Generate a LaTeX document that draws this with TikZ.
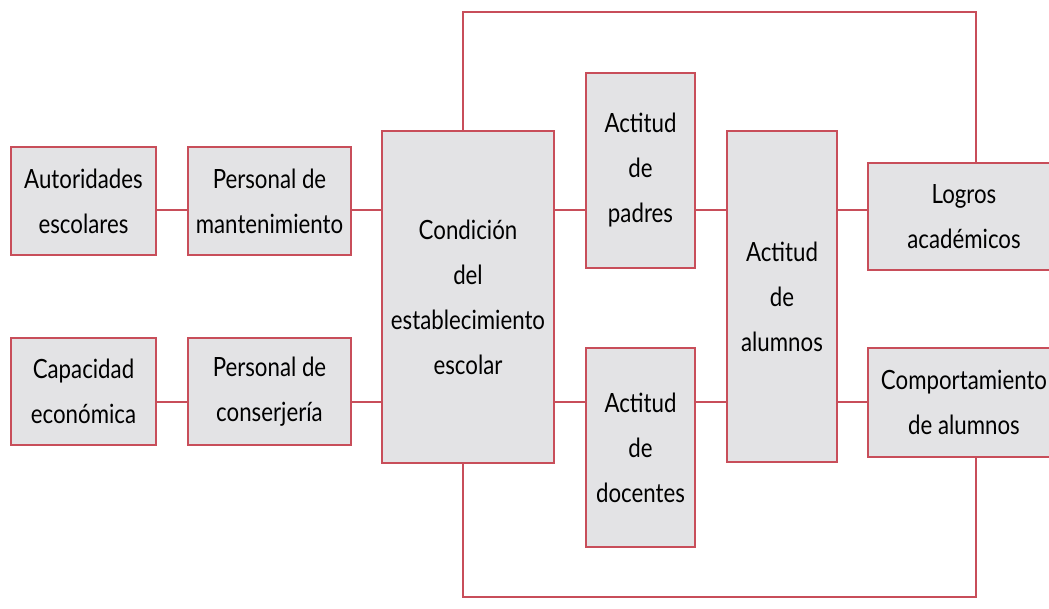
\documentclass[tikz,border=0pt]{standalone}
\usepackage{fontspec}
\setmainfont{Lato}[FakeStretch=0.84]
\definecolor{boxred}{RGB}{200,78,90}
\definecolor{boxgray}{RGB}{227,227,229}

\begin{document}
\begin{tikzpicture}[x=1pt, y=-1pt,
    blk/.style={draw=boxred, fill=boxgray, line width=2.2pt, align=center,
        inner sep=0pt, font=\fontsize{26.5}{45}\selectfont},
    link/.style={draw=boxred, line width=2.2pt}]
    \useasboundingbox (0,0) rectangle (1049,608);
    \coordinate (r1) at (0,210);
    \coordinate (r2) at (0,402);
    \coordinate (tl) at (463,12);
    \coordinate (tr) at (976,12);
    \coordinate (bl) at (463,597);
    \coordinate (br) at (976,597);

    \path (83.5,201) node [blk, minimum width=145, minimum height=108] (aut) {Autoridades\\escolares};
    \path (269.5,201) node [blk, minimum width=163, minimum height=108] (mant) {Personal de\\mantenimiento};
    \path (83.5,391.5) node [blk, minimum width=145, minimum height=107] (cap) {Capacidad\\económica};
    \path (269.5,391.5) node [blk, minimum width=163, minimum height=107] (cons) {Personal de\\conserjería};
    \path (468,297) node [blk, minimum width=172, minimum height=332] (cond) {Condición\\del\\establecimiento\\escolar};
    \path (640.5,170.5) node [blk, minimum width=109, minimum height=195] (pad) {Actitud\\de\\padres};
    \path (640.5,447.5) node [blk, minimum width=109, minimum height=199] (doc) {Actitud\\de\\docentes};
    \path (782,296.5) node [blk, minimum width=110, minimum height=331] (alu) {Actitud\\de\\alumnos};
    \path (964,216.5) node [blk, minimum width=192, minimum height=107] (log) {Logros\\académicos};
    \path (964,402.5) node [blk, minimum width=192, minimum height=109] (comp) {Comportamiento\\de alumnos};

    \draw [link] (aut.east |- r1) -- (mant.west |- r1);
    \draw [link] (mant.east |- r1) -- (cond.west |- r1);
    \draw [link] (cond.east |- r1) -- (pad.west |- r1);
    \draw [link] (pad.east |- r1) -- (alu.west |- r1);
    \draw [link] (alu.east |- r1) -- (log.west |- r1);
    \draw [link] (cap.east |- r2) -- (cons.west |- r2);
    \draw [link] (cons.east |- r2) -- (cond.west |- r2);
    \draw [link] (cond.east |- r2) -- (doc.west |- r2);
    \draw [link] (doc.east |- r2) -- (alu.west |- r2);
    \draw [link] (alu.east |- r2) -- (comp.west |- r2);
    \draw [link] (cond.north -| tl) -- (tl) -- (tr) -- (log.north -| tr);
    \draw [link] (cond.south -| bl) -- (bl) -- (br) -- (comp.south -| br);
\end{tikzpicture}
\end{document}
